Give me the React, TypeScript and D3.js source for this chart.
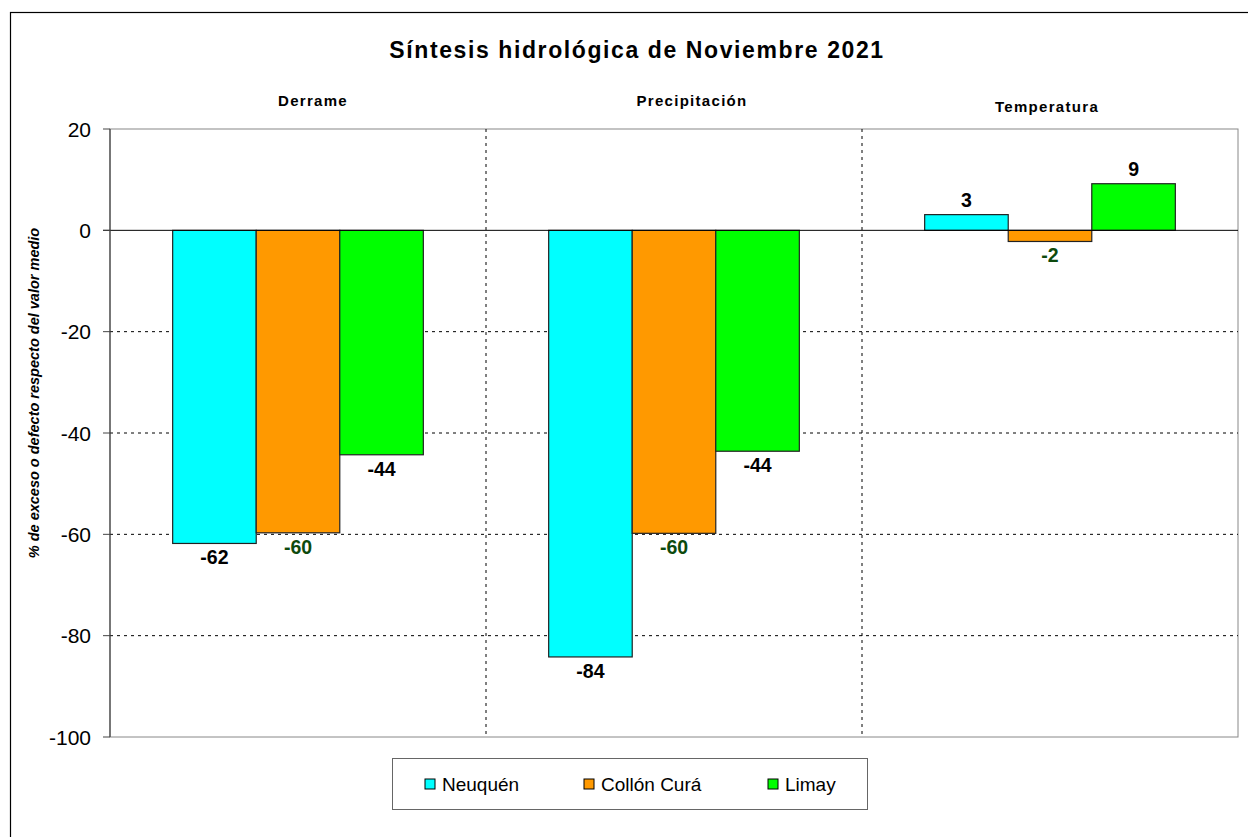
import React from 'react';
import * as d3 from 'd3';

const categories = ['Derrame', 'Precipitación', 'Temperatura'];
const series = ['Neuquén', 'Collón Curá', 'Limay'];
const seriesColors = ['#00FFFF', '#FF9900', '#00FF00'];
// values per series, in category order
const neuquen = [-61.8, -84.2, 3.1];
const collonCura = [-59.7, -59.8, -2.2];
const limay = [-44.3, -43.6, 9.2];
const yTicks = [20, 0, -20, -40, -60, -80, -100];

const values = [neuquen, collonCura, limay];
const font = 'Arial, "Liberation Sans", sans-serif';

export default function App() {
  const width = 1248;
  const height = 837;
  const plot = { left: 110, right: 1238, top: 129, bottom: 737 };

  const y = d3.scaleLinear().domain([-100, 20]).range([plot.bottom, plot.top]);
  const x0 = d3.scaleBand().domain(categories).range([plot.left, plot.right]);
  const x1 = d3.scaleBand()
    .domain(series)
    .range([0, x0.bandwidth()])
    .paddingInner(0)
    .paddingOuter(0.75);

  // subtitle anchors relative to category centers (text boxes in the original)
  const subtitleShift = [15, 18, -3];
  const subtitleY = [106, 106, 112];

  const legendItems = [425, 584, 768];

  return (
    <svg width={width} height={height} style={{ position: 'absolute', left: 0, top: 0 }}>
      <rect x={0} y={0} width={width} height={height} fill="#fff" />
      <rect x={10.5} y={12.5} width={1260} height={840} fill="#fff" stroke="#000" strokeWidth={1.2} />

      <text x={637} y={58} textAnchor="middle" fontFamily={font} fontWeight="bold" fontSize={23} letterSpacing={1.6}>
        Síntesis hidrológica de Noviembre 2021
      </text>
      {categories.map((c, i) => (
        <text
          key={c}
          x={x0(c)! + x0.bandwidth() / 2 + subtitleShift[i]}
          y={subtitleY[i]}
          textAnchor="middle"
          fontFamily={font}
          fontWeight="bold"
          fontSize={15}
          letterSpacing={1.3}
        >
          {c}
        </text>
      ))}

      {/* plot border */}
      <rect
        x={plot.left}
        y={plot.top}
        width={plot.right - plot.left}
        height={plot.bottom - plot.top}
        fill="none"
        stroke="#888"
        strokeWidth={1}
      />

      {/* horizontal gridlines */}
      {yTicks.filter(t => t !== 20 && t !== 0 && t !== -100).map(t => (
        <line key={t} x1={plot.left} x2={plot.right} y1={y(t)} y2={y(t)} stroke="#000" strokeWidth={1} strokeDasharray="3,4" />
      ))}
      {/* vertical category separators */}
      {categories.slice(1).map(c => (
        <line key={c} x1={x0(c)} x2={x0(c)} y1={plot.top} y2={plot.bottom} stroke="#000" strokeWidth={1} strokeDasharray="3,4" />
      ))}

      {/* bars */}
      {series.map((s, si) =>
        categories.map((c, ci) => {
          const v = values[si][ci];
          const bx = x0(c)! + x1(s)!;
          const y0 = y(0);
          const yv = y(v);
          return (
            <rect
              key={s + c}
              x={bx}
              y={Math.min(y0, yv)}
              width={x1.bandwidth()}
              height={Math.abs(yv - y0)}
              fill={seriesColors[si]}
              stroke="#222"
              strokeWidth={1.2}
            />
          );
        })
      )}

      {/* zero line */}
      <line x1={plot.left - 7} x2={plot.right} y1={y(0)} y2={y(0)} stroke="#000" strokeWidth={1} />

      {/* y axis */}
      <line x1={plot.left} x2={plot.left} y1={plot.top} y2={plot.bottom} stroke="#444" strokeWidth={1.2} />
      {yTicks.map(t => (
        <g key={t}>
          <line x1={plot.left - 7} x2={plot.left} y1={y(t)} y2={y(t)} stroke="#444" strokeWidth={1} />
          <text x={91} y={y(t)} dy="0.36em" textAnchor="end" fontFamily={font} fontSize={21}>
            {t}
          </text>
        </g>
      ))}
      <text
        transform="translate(39, 393) rotate(-90)"
        textAnchor="middle"
        fontFamily={font}
        fontWeight="bold"
        fontStyle="italic"
        fontSize={14.5}
      >
        % de exceso o defecto respecto del valor medio
      </text>

      {/* data labels */}
      {series.map((s, si) =>
        categories.map((c, ci) => {
          const v = values[si][ci];
          const cx = x0(c)! + x1(s)! + x1.bandwidth() / 2;
          const ly = v >= 0 ? y(v) - 8 : y(v) + 21;
          return (
            <text
              key={'l' + s + c}
              x={cx}
              y={ly}
              textAnchor="middle"
              fontFamily={font}
              fontWeight="bold"
              fontSize={19.5}
              fill={si === 1 ? '#0d4a0d' : '#000'}
            >
              {Math.round(v)}
            </text>
          );
        })
      )}

      {/* legend */}
      <rect x={392.5} y={758.5} width={475} height={51} fill="#fff" stroke="#666" strokeWidth={1} />
      {series.map((s, i) => (
        <g key={s}>
          <rect x={legendItems[i]} y={779} width={10} height={10} fill={seriesColors[i]} stroke="#000" strokeWidth={1} />
          <text x={legendItems[i] + 17} y={784} dy="0.36em" fontFamily={font} fontSize={19}>
            {s}
          </text>
        </g>
      ))}
    </svg>
  );
}
